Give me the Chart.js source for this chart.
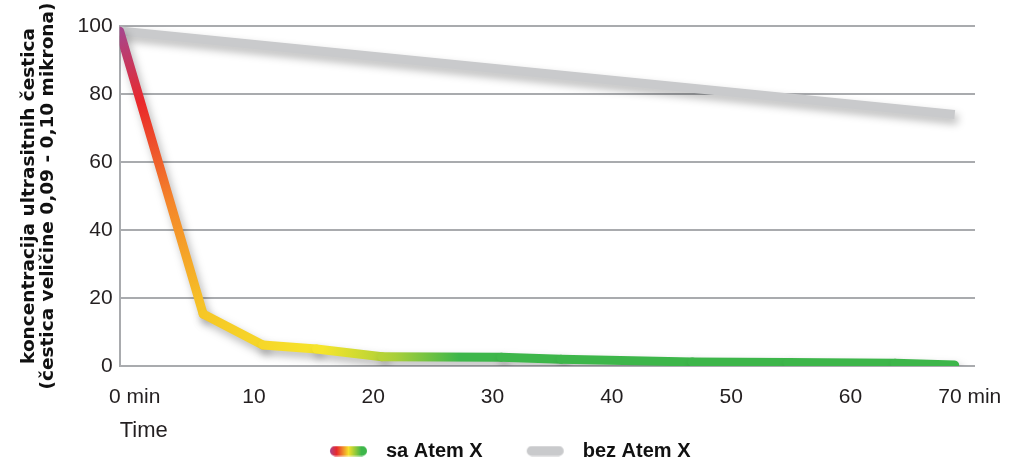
<!DOCTYPE html>
<html>
<head>
<meta charset="utf-8">
<script src="https://cdn.jsdelivr.net/npm/chart.js@4.4.1/dist/chart.umd.min.js"></script>
<style>
  html, body { margin: 0; padding: 0; background: #fff; }
  #wrap { width: 1011px; height: 462px; }
</style>
</head>
<body>
<div id="wrap"><canvas id="myChart"></canvas></div>
<script>
const minutesSa = [0, 7, 12, 16.5, 22, 32, 37, 48, 56, 65, 70];
const valuesSa = [98.5, 15.3, 6.2, 5, 2.7, 2.6, 2, 1.2, 1, 0.8, 0.3];
const minutesBez = [0, 70];
const valuesBez = [98.5, 74];
const xTickValues = [0, 10, 20, 30, 40, 50, 60, 70];
const xTickLabels = ['0 min', '10', '20', '30', '40', '50', '60', '70 min'];
const seriesNames = ['sa Atem X', 'bez Atem X'];
const yTitle = ['koncentracija ultrasitnih čestica', '(čestica veličine 0,09 - 0,10 mikrona)'];
const xTitle = 'Time';
const X_MAX = 71.7;

const GRID = '#a9abae';
const TEXT = '#231f20';
const GREY_LINE = '#c9cacc';

// colour ramp along the length of the "sa Atem X" line
const ramp = [
    [0, '#a8458b'], [0.07, '#e9282b'], [0.17, '#f4862a'], [0.28, '#f6c726'],
    [0.40, '#f6e52b'], [0.47, '#a8cf3a'], [0.53, '#3db64a'], [1, '#3db64a']
];

function hexRgb(h) {
    return [parseInt(h.slice(1, 3), 16), parseInt(h.slice(3, 5), 16), parseInt(h.slice(5, 7), 16)];
}
function rampAt(f) {
    for (let i = 1; i < ramp.length; i++) {
        if (f <= ramp[i][0]) {
            const a = hexRgb(ramp[i - 1][1]), b = hexRgb(ramp[i][1]);
            const t = (f - ramp[i - 1][0]) / (ramp[i][0] - ramp[i - 1][0]);
            return 'rgb(' + a.map((v, k) => Math.round(v + (b[k] - v) * t)).join(',') + ')';
        }
    }
    return ramp[ramp.length - 1][1];
}

// gradient for each segment, following the path length
function segColor(ctx) {
    const chart = ctx.chart;
    const pts = chart.getDatasetMeta(ctx.datasetIndex).data;
    const cum = [0];
    let total = 0;
    for (let i = 1; i < pts.length; i++) {
        total += Math.hypot(pts[i].x - pts[i - 1].x, pts[i].y - pts[i - 1].y);
        cum.push(total);
    }
    const f0 = cum[ctx.p0DataIndex] / total, f1 = cum[ctx.p1DataIndex] / total;
    const g = chart.ctx.createLinearGradient(ctx.p0.x, ctx.p0.y, ctx.p1.x, ctx.p1.y);
    g.addColorStop(0, rampAt(f0));
    ramp.forEach(([f, c]) => {
        if (f > f0 && f < f1) g.addColorStop((f - f0) / (f1 - f0), c);
    });
    g.addColorStop(1, rampAt(f1));
    return g;
}

// legend swatches: empty margin, pill, empty gap before the text
const SW_LEFT = 11;
const SW_W = SW_LEFT + 37 + 9;
function swatch(kind) {
    const c = document.createElement('canvas');
    c.width = SW_W; c.height = 11;
    const g = c.getContext('2d');
    let fill = GREY_LINE;
    if (kind === 'grad') {
        fill = g.createLinearGradient(SW_LEFT, 0, SW_LEFT + 37, 0);
        fill.addColorStop(0, '#a8458b');
        fill.addColorStop(0.18, '#e9282b');
        fill.addColorStop(0.5, '#f6e02a');
        fill.addColorStop(0.85, '#3db64a');
        fill.addColorStop(1, '#3db64a');
    }
    g.fillStyle = fill;
    g.beginPath();
    g.roundRect(SW_LEFT, 0.5, 37, 10, 5);
    g.fill();
    return c;
}
const swatches = [swatch('grad'), swatch('grey')];

const shadowPlugin = {
    id: 'lineShadow',
    beforeDatasetDraw(chart) {
        const c = chart.ctx;
        c.save();
        c.shadowColor = 'rgba(0,0,0,0.28)';
        c.shadowBlur = 8;
        c.shadowOffsetX = 3;
        c.shadowOffsetY = 5;
    },
    afterDatasetDraw(chart) {
        chart.ctx.restore();
    }
};

Chart.defaults.font.family = "'Liberation Sans', Arial, sans-serif";
Chart.defaults.color = TEXT;

const ctx = document.getElementById('myChart').getContext('2d');
const myChart = new Chart(ctx, {
    type: 'line',
    data: {
        datasets: [
            {
                label: seriesNames[0],
                data: minutesSa.map((m, i) => ({x: m, y: valuesSa[i]})),
                borderColor: '#3db64a',
                borderWidth: 9,
                borderCapStyle: 'round',
                borderJoinStyle: 'round',
                pointRadius: 0,
                tension: 0,
                segment: {borderColor: segColor}
            },
            {
                label: seriesNames[1],
                data: minutesBez.map((m, i) => ({x: m, y: valuesBez[i]})),
                borderColor: GREY_LINE,
                borderWidth: 9,
                borderCapStyle: 'butt',
                pointRadius: 0,
                tension: 0
            }
        ]
    },
    options: {
        responsive: true,
        maintainAspectRatio: false,
        animation: false,
        layout: {padding: {left: 10, top: 26, right: 11.5, bottom: -9}},
        scales: {
            x: {
                type: 'linear',
                min: 0,
                max: X_MAX,
                afterBuildTicks: (scale) => { scale.ticks = xTickValues.map(v => ({value: v})); },
                afterFit: (scale) => { scale.paddingRight = 36; },
                grid: {display: false, drawTicks: false},
                border: {display: false},
                ticks: {
                    padding: 19,
                    labelOffset: 15,
                    font: {size: 21},
                    callback: (v, i) => xTickLabels[i]
                },
                title: {
                    display: true,
                    text: xTitle,
                    align: 'start',
                    font: {size: 22},
                    padding: {top: -11.4, bottom: -36.2}
                }
            },
            y: {
                min: 0,
                max: 100,
                ticks: {stepSize: 20, padding: 7, font: {size: 21}},
                grid: {color: GRID, lineWidth: 2, drawTicks: false},
                border: {display: true, color: GRID, width: 2},
                title: {
                    display: true,
                    text: yTitle,
                    font: {family: "'DejaVu Sans'", size: 18.5, weight: 'bold', lineHeight: 1.03},
                    color: '#111',
                    padding: {top: 9.5, bottom: 13}
                }
            }
        },
        plugins: {
            legend: {
                position: 'bottom',
                labels: {
                    usePointStyle: true,
                    pointStyleWidth: SW_W,
                    padding: 33,
                    color: '#111',
                    font: {size: 20, weight: 'bold'},
                    generateLabels(chart) {
                        const items = Chart.defaults.plugins.legend.labels.generateLabels(chart);
                        items.forEach((it, i) => { it.pointStyle = swatches[i]; });
                        return items;
                    }
                }
            },
            tooltip: {enabled: false}
        }
    },
    plugins: [shadowPlugin]
});
</script>
</body>
</html>
